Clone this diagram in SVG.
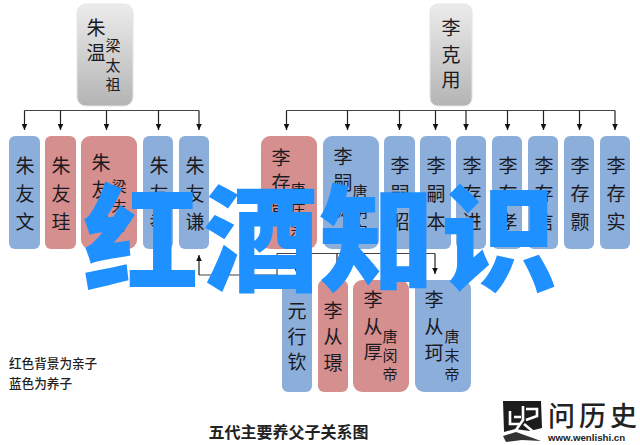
<svg xmlns="http://www.w3.org/2000/svg" width="640" height="445" viewBox="0 0 640 445">
<style>
.t{font-family:"Noto Sans CJK SC","Noto Sans CJK TC",serif;fill:#1a1a22;text-anchor:middle}
.m{font-size:19px}.s{font-size:15px}
.b{fill:#8caedb}.r{fill:#d68f8f}
.c{fill:none;stroke:#222;stroke-width:1.2}
.k{fill:none;stroke:#444;stroke-width:1.2}
.l{font-family:"Noto Sans CJK SC",serif;font-size:12.6px;font-weight:500;fill:#222}
</style>
<defs>
<linearGradient id="g" x1="0" y1="0" x2="0" y2="1"><stop offset="0" stop-color="#ececec"/><stop offset="1" stop-color="#b4b4b4"/></linearGradient>
<marker id="a" markerUnits="userSpaceOnUse" markerWidth="7" markerHeight="6" refX="6" refY="3" orient="auto"><path d="M0 0.2L6 3L0 5.800Z" fill="#111"/></marker>
</defs>
<rect width="640" height="445" fill="#fff"/>
<g id="connectors">
<path class="k" d="M24.500 110.500H199M286.500 110.500H615"/>
<path class="c" marker-end="url(#a)" d="M24.500 110.500V130"/>
<path class="c" marker-end="url(#a)" d="M60.500 110.500V130"/>
<path class="c" marker-end="url(#a)" d="M106.500 110.500V130"/>
<path class="c" marker-end="url(#a)" d="M158.500 110.500V130"/>
<path class="c" marker-end="url(#a)" d="M199 110.500V130"/>
<path class="c" marker-end="url(#a)" d="M286.500 110.500V130"/>
<path class="c" marker-end="url(#a)" d="M347.500 110.500V130"/>
<path class="c" marker-end="url(#a)" d="M399.500 110.500V130"/>
<path class="c" marker-end="url(#a)" d="M435.500 110.500V130"/>
<path class="c" marker-end="url(#a)" d="M466 110.500V130"/>
<path class="c" marker-end="url(#a)" d="M507.500 110.500V130"/>
<path class="c" marker-end="url(#a)" d="M543.500 110.500V130"/>
<path class="c" marker-end="url(#a)" d="M579.500 110.500V130"/>
<path class="c" marker-end="url(#a)" d="M615 110.500V130"/>
<path class="k" d="M277 253.500V275H199"/>
<path class="c" marker-end="url(#a)" d="M199 275V255"/>
<path class="k" d="M277 253.500H435"/>
<path class="c" marker-end="url(#a)" d="M297 253.500V274"/>
<path class="c" marker-end="url(#a)" d="M337 253.500V274"/>
<path class="c" marker-end="url(#a)" d="M384 253.500V274"/>
<path class="c" marker-end="url(#a)" d="M435 253.500V274"/>
</g>
<g id="n-zhuwen"><rect x="77" y="4" width="56" height="102" rx="9" fill="url(#g)" stroke="#e4e4e4"/><text class="t m" x="96" y="35">朱</text><text class="t m" x="96" y="60">温</text><text class="t s" x="113" y="51">梁</text><text class="t s" x="113" y="71">太</text><text class="t s" x="113" y="90">祖</text></g>
<g id="n-likeyong"><rect x="430" y="4" width="42" height="102" rx="8" fill="url(#g)" stroke="#e4e4e4"/><text class="t m" x="451" y="35">李</text><text class="t m" x="451" y="62">克</text><text class="t m" x="451" y="87">用</text></g>
<g id="n-a1"><rect class="b" x="9" y="136" width="31" height="113" rx="6"/><text class="t m" x="25" y="173">朱</text><text class="t m" x="25" y="201">友</text><text class="t m" x="25" y="229">文</text></g>
<g id="n-a2"><rect class="r" x="45" y="136" width="31" height="113" rx="6"/><text class="t m" x="61" y="173">朱</text><text class="t m" x="61" y="201">友</text><text class="t m" x="61" y="229">珪</text></g>
<g id="n-a3"><rect class="r" x="81" y="136" width="56" height="113" rx="9"/><text class="t m" x="101" y="170">朱</text><text class="t m" x="101" y="197">友</text><text class="t m" x="101" y="224">贞</text><text class="t s" x="119" y="192">梁</text><text class="t s" x="119" y="212">末</text><text class="t s" x="119" y="232">帝</text></g>
<g id="n-a4"><rect class="b" x="143" y="136" width="30" height="113" rx="6"/><text class="t m" x="159" y="173">朱</text><text class="t m" x="159" y="201">友</text><text class="t m" x="159" y="229">孝</text></g>
<g id="n-a5"><rect class="b" x="179" y="136" width="30" height="113" rx="6"/><text class="t m" x="195" y="173">朱</text><text class="t m" x="195" y="201">友</text><text class="t m" x="195" y="229">谦</text></g>
<g id="n-b1"><rect class="r" x="261" y="136" width="56" height="113" rx="9"/><text class="t m" x="281" y="165">李</text><text class="t m" x="281" y="190">存</text><text class="t m" x="281" y="216">勖</text><text class="t s" x="298" y="195">唐</text><text class="t s" x="298" y="215">庄</text><text class="t s" x="298" y="235">宗</text></g>
<g id="n-b2"><rect class="b" x="323" y="136" width="56" height="113" rx="9"/><text class="t m" x="343" y="164">李</text><text class="t m" x="343" y="190">嗣</text><text class="t m" x="343" y="216">源</text><text class="t s" x="360" y="197">唐</text><text class="t s" x="360" y="217">明</text><text class="t s" x="360" y="237">宗</text></g>
<g id="n-b3"><rect class="b" x="384" y="136" width="31" height="113" rx="6"/><text class="t m" x="400" y="173">李</text><text class="t m" x="400" y="201">嗣</text><text class="t m" x="400" y="229">昭</text></g>
<g id="n-b4"><rect class="b" x="420" y="136" width="31" height="113" rx="6"/><text class="t m" x="436" y="173">李</text><text class="t m" x="436" y="201">嗣</text><text class="t m" x="436" y="229">本</text></g>
<g id="n-b5"><rect class="b" x="456" y="136" width="30" height="113" rx="6"/><text class="t m" x="472" y="173">李</text><text class="t m" x="472" y="201">存</text><text class="t m" x="472" y="229">进</text></g>
<g id="n-b6"><rect class="b" x="492" y="136" width="30" height="113" rx="6"/><text class="t m" x="508" y="173">李</text><text class="t m" x="508" y="201">存</text><text class="t m" x="508" y="229">孝</text></g>
<g id="n-b7"><rect class="b" x="528" y="136" width="30" height="113" rx="6"/><text class="t m" x="544" y="173">李</text><text class="t m" x="544" y="201">存</text><text class="t m" x="544" y="229">信</text></g>
<g id="n-b8"><rect class="b" x="564" y="136" width="30" height="113" rx="6"/><text class="t m" x="580" y="173">李</text><text class="t m" x="580" y="201">存</text><text class="t m" x="580" y="229">颢</text></g>
<g id="n-b9"><rect class="b" x="600" y="136" width="30" height="113" rx="6"/><text class="t m" x="616" y="173">李</text><text class="t m" x="616" y="201">存</text><text class="t m" x="616" y="229">实</text></g>
<g id="n-c1"><rect class="b" x="282" y="280" width="30" height="112" rx="6"/><text class="t m" x="297" y="318">元</text><text class="t m" x="297" y="344">行</text><text class="t m" x="297" y="369">钦</text></g>
<g id="n-c2"><rect class="r" x="318" y="280" width="30" height="112" rx="6"/><text class="t m" x="333" y="318">李</text><text class="t m" x="333" y="344">从</text><text class="t m" x="333" y="370">璟</text></g>
<g id="n-c3"><rect class="r" x="353" y="280" width="56" height="112" rx="9"/><text class="t m" x="373" y="307">李</text><text class="t m" x="373" y="334">从</text><text class="t m" x="373" y="359">厚</text><text class="t s" x="390" y="342">唐</text><text class="t s" x="390" y="361">闵</text><text class="t s" x="390" y="380">帝</text></g>
<g id="n-c4"><rect class="b" x="415" y="280" width="56" height="112" rx="9"/><text class="t m" x="434" y="307">李</text><text class="t m" x="434" y="334">从</text><text class="t m" x="434" y="360">珂</text><text class="t s" x="452" y="342">唐</text><text class="t s" x="452" y="361">末</text><text class="t s" x="452" y="380">帝</text></g>
<text class="l" x="9" y="368">红色背景为亲子</text>
<text class="l" x="9" y="388">蓝色为养子</text>
<text x="288.500" y="438" text-anchor="middle" font-family="'Noto Sans CJK SC',serif" font-size="16px" font-weight="700" fill="#222">五代主要养父子关系图</text>
<text x="548" y="426" font-family="'Noto Sans CJK SC',serif" font-size="27px" font-weight="500" letter-spacing="4" fill="#222">问历史</text>
<text x="548" y="441" font-family="'Liberation Sans',sans-serif" font-size="9.700px" font-weight="700" fill="#222">www.wenlishi.cn</text>
<path d="M503 401H541L542 428L530 431L515 429L504 432Z" fill="#1c1c1c"/>
<path d="M503 436L516 432L530 437L541 441L522 440L506 442Z" fill="#333"/>
<path d="M510 411V424H520M514 417H521M523 406V420L516 430M526 409H537V416L526 420M524 424L536 434" fill="none" stroke="#fff" stroke-width="2.600"/>
<text x="141 261 377 499" y="282" text-anchor="middle" font-family="'Noto Sans CJK SC',sans-serif" font-size="116px" font-weight="900" fill="#1e90ff">红酒知识</text>
</svg>
